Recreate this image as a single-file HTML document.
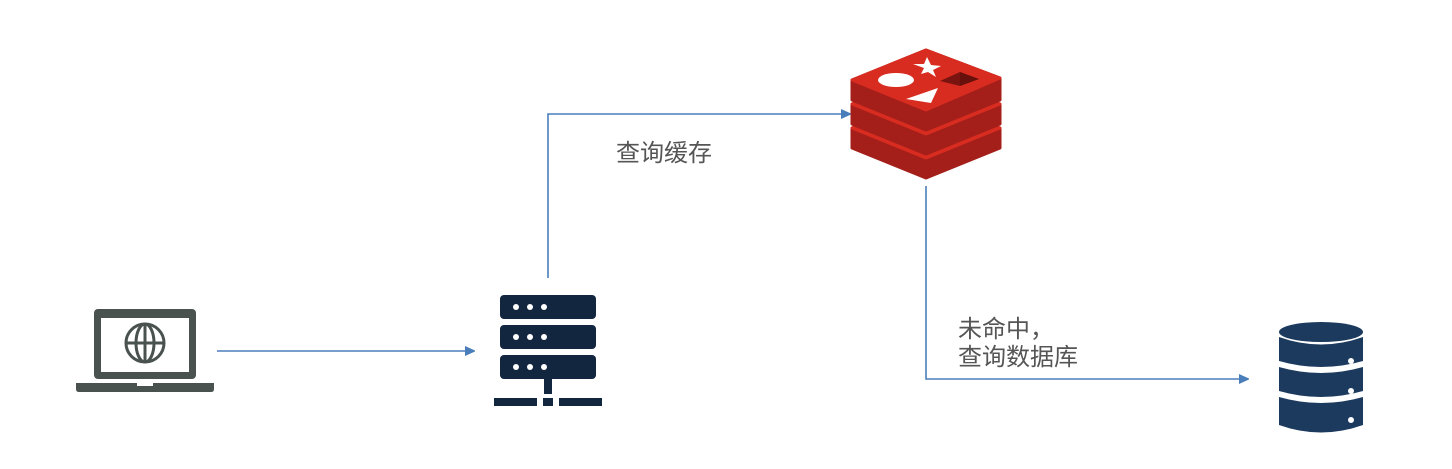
<!DOCTYPE html>
<html><head><meta charset="utf-8"><style>
body{margin:0;background:#fff;}
svg{display:block}
text{font-family:"Liberation Sans","Noto Sans CJK SC",sans-serif;font-size:24px;fill:#555}
</style></head><body>
<svg width="1452" height="469" viewBox="0 0 1452 469" xmlns="http://www.w3.org/2000/svg">
<defs><marker id="a" markerWidth="10" markerHeight="10" refX="9" refY="5" orient="auto" markerUnits="userSpaceOnUse"><path d="M0,0 L11,5 L0,10 z" fill="#4a7ebb"/></marker></defs>
<g stroke="#4a7ebb" stroke-width="1.6" fill="none">
<path d="M217,351 H474" marker-end="url(#a)"/>
<path d="M548,278 V114 H850" marker-end="url(#a)"/>
<path d="M926,186 V379 H1248" marker-end="url(#a)"/>
</g>
<rect x="94" y="309" width="102" height="70" rx="4" fill="#4a5250"/>
<rect x="101" y="318" width="88" height="54" fill="#fff"/>
<path d="M76,383 H214 V389 Q214,392 211,392 H79 Q76,392 76,389 Z" fill="#4a5250"/>
<rect x="137" y="383" width="16" height="3" fill="#fff"/>
<g stroke="#4a5250" stroke-width="3" fill="none">
<circle cx="145" cy="343" r="19"/>
<ellipse cx="145" cy="343" rx="9" ry="19"/>
<line x1="145" y1="324" x2="145" y2="362"/>
<line x1="126" y1="343" x2="164" y2="343"/>
</g>
<g fill="#13263f">
<rect x="500" y="295" width="96" height="24" rx="4"/>
<rect x="500" y="325" width="96" height="24" rx="4"/>
<rect x="500" y="355" width="96" height="24" rx="4"/>
<rect x="544" y="379" width="8" height="15"/>
<rect x="494" y="398" width="43" height="8"/>
<rect x="543" y="398" width="10" height="8"/>
<rect x="559" y="398" width="43" height="8"/>
</g>
<g fill="#fff">
<circle cx="516" cy="307" r="3"/><circle cx="530" cy="307" r="3"/><circle cx="544" cy="307" r="3"/>
<circle cx="516" cy="337" r="3"/><circle cx="530" cy="337" r="3"/><circle cx="544" cy="337" r="3"/>
<circle cx="516" cy="367" r="3"/><circle cx="530" cy="367" r="3"/><circle cx="544" cy="367" r="3"/>
</g>
<g stroke-linejoin="round">
<path d="M852,128 L926,100 L1000,128 V148 L926,178 L852,148 Z" fill="#a41e1a" stroke="#a41e1a" stroke-width="3"/>
<path d="M852,128 L926,100 L1000,128 L926,158 Z" fill="#d82c20" stroke="#d82c20" stroke-width="3"/>
<path d="M852,104 L926,76 L1000,104 V124 L926,154 L852,124 Z" fill="#a41e1a" stroke="#a41e1a" stroke-width="3"/>
<path d="M852,104 L926,76 L1000,104 L926,134 Z" fill="#d82c20" stroke="#d82c20" stroke-width="3"/>
<path d="M852,80 L926,50 L1000,78 V100 L926,130 L852,100 Z" fill="#a41e1a" stroke="#a41e1a" stroke-width="3"/>
<path d="M852,80 L926,50 L1000,78 L926,110 Z" fill="#d82c20" stroke="#d82c20" stroke-width="3"/>
<ellipse cx="896" cy="80" rx="18" ry="7" fill="#fff"/>
<path d="M927,57 L931,65 L941,66 L933,70 L936,77 L928,72 L921,74 L924,68 L913,64 L924,64 Z" fill="#fff"/>
<path d="M940,81 L960,72 L979,79 L960,86 Z" fill="#7a1410"/>
<path d="M960,72 L979,79 L960,86 Z" fill="#5c0d08" opacity="0.6"/>
<path d="M906,99 L938,88 L931,103 Z" fill="#fff"/>
</g>
<g fill="#1b3a5e">
<ellipse cx="1321" cy="332" rx="42" ry="10"/>
<path d="M1279,337 Q1321,352 1363,337 V361 Q1321,373 1279,361 Z"/>
<path d="M1279,367 Q1321,379 1363,367 V391 Q1321,403 1279,391 Z"/>
<path d="M1279,397 Q1321,409 1363,397 V425 Q1321,440 1279,425 Z"/>
</g>
<g fill="#fff"><circle cx="1351" cy="361" r="3"/><circle cx="1351" cy="391" r="3"/><circle cx="1351" cy="420" r="3"/></g>
<text x="616" y="161">查询缓存</text>
<text x="958" y="337">未命中，</text>
<text x="958" y="365">查询数据库</text>
</svg>
</body></html>
